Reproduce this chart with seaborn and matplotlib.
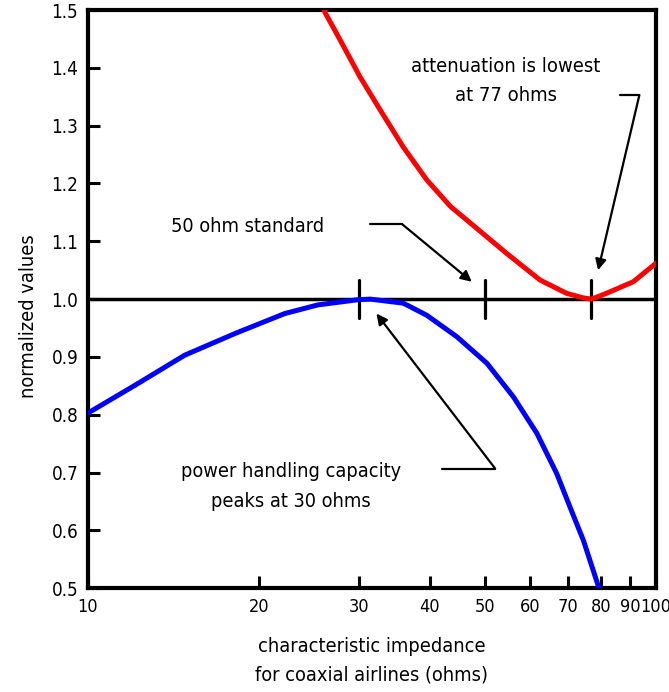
import matplotlib
matplotlib.use("Agg")
import matplotlib.pyplot as plt
import pandas as pd
import seaborn as sns

# power handling capacity (blue)
power_ohms = [10, 12.1, 14.8, 18.2, 22.2, 25.4, 29.9, 31.4, 35.9, 39.5, 44.6, 50.4, 56.1, 61.7, 66.9, 70.6, 74.5, 80.0]
power_vals = [0.803, 0.851, 0.903, 0.941, 0.975, 0.990, 0.999, 1.0, 0.993, 0.972, 0.935, 0.889, 0.831, 0.768, 0.698, 0.640, 0.583, 0.49]

# attenuation (red)
atten_ohms = [25.9, 26.1, 27.8, 30.1, 32.7, 35.9, 39.5, 43.5, 48.0, 54.6, 62.5, 69.6, 74.5, 77.0, 81.8, 91.2, 100]
atten_vals = [1.51, 1.497, 1.448, 1.385, 1.327, 1.263, 1.206, 1.160, 1.125, 1.079, 1.033, 1.010, 1.002, 1.0, 1.010, 1.030, 1.062]

x_ticks = [10, 20, 30, 40, 50, 60, 70, 80, 90, 100]
y_ticks = [0.5, 0.6, 0.7, 0.8, 0.9, 1.0, 1.1, 1.2, 1.3, 1.4, 1.5]
marker_ohms = [30, 50, 77]

power_df = pd.DataFrame({"ohms": power_ohms, "value": power_vals})
atten_df = pd.DataFrame({"ohms": atten_ohms, "value": atten_vals})

sns.set_style("ticks")
plt.rcParams["font.family"] = ["DejaVu Sans"]
plt.rcParams["font.stretch"] = "condensed"
plt.rcParams["text.color"] = "black"
plt.rcParams["axes.labelcolor"] = "black"
plt.rcParams["xtick.color"] = "black"
plt.rcParams["ytick.color"] = "black"
plt.rcParams["axes.edgecolor"] = "black"

fig = plt.figure(figsize=(6.69, 6.92), dpi=100)
ax = fig.add_axes([0.1315, 0.150, 0.849, 0.8355])

ax.axhline(1.0, color="black", lw=2.5, zorder=2)
for m in marker_ohms:
    ax.plot([m, m], [0.968, 1.033], color="black", lw=2.3, zorder=2)

sns.lineplot(data=atten_df, x="ohms", y="value", color="#ff0000", lw=3.6, ax=ax, zorder=3)
sns.lineplot(data=power_df, x="ohms", y="value", color="#0000ff", lw=3.6, ax=ax, zorder=3)

ax.set_xscale("log")
ax.set_xlim(10, 100)
ax.set_ylim(0.5, 1.5)
ax.set_xticks(x_ticks)
ax.set_xticklabels([str(t) for t in x_ticks])
ax.xaxis.set_minor_locator(matplotlib.ticker.NullLocator())
ax.set_yticks(y_ticks)
ax.set_yticklabels([f"{t:.1f}" for t in y_ticks])
ax.tick_params(direction="in", length=8.5, width=2.2, labelsize=13.5, pad=7, colors="black")
ax.tick_params(axis="x", labelsize=13)

for s in ax.spines.values():
    s.set_visible(True)
    s.set_linewidth(3)
    s.set_color("black")

ax.set_xlabel("characteristic impedance\nfor coaxial airlines (ohms)", fontsize=14.3, labelpad=15, linespacing=1.65)
ax.set_ylabel("normalized values", fontsize=14.3)
ax.yaxis.set_label_coords(-0.088, 0.47)

arrow = dict(arrowstyle="-|>", color="black", lw=1.6, mutation_scale=16, shrinkA=0, shrinkB=0)

ax.text(19.1, 1.125, "50 ohm standard", fontsize=14.3, ha="center", va="center")
ax.plot([31.4, 35.7], [1.130, 1.130], color="black", lw=1.6)
ax.annotate("", xy=(47.4, 1.030), xytext=(35.7, 1.130), arrowprops=arrow)

ax.text(54.4, 1.377, "attenuation is lowest\nat 77 ohms", fontsize=14.5, ha="center", va="center", linespacing=1.7)
ax.plot([86.4, 93.5], [1.353, 1.353], color="black", lw=1.6)
ax.annotate("", xy=(79.1, 1.050), xytext=(93.5, 1.353), arrowprops=arrow)

ax.text(22.8, 0.676, "power handling capacity\npeaks at 30 ohms", fontsize=14.3, ha="center", va="center", linespacing=1.7)
ax.plot([42.0, 52.1], [0.707, 0.707], color="black", lw=1.6)
ax.annotate("", xy=(32.2, 0.975), xytext=(52.1, 0.707), arrowprops=arrow)

fig.savefig("out.png", dpi=100)
